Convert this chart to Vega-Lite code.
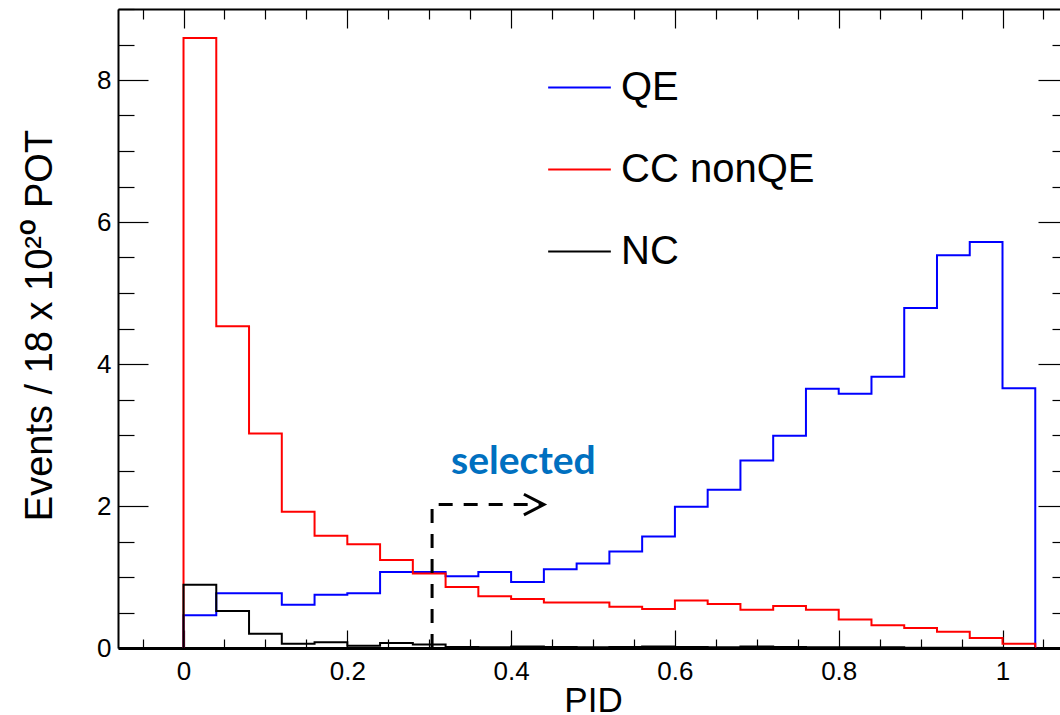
{
  "$schema": "https://vega.github.io/schema/vega-lite/v6.json",
  "width": 942,
  "height": 639,
  "autosize": "none",
  "padding": {"left": 118, "top": 9, "right": 0, "bottom": 67},
  "background": "white",
  "config": {
    "view": {"stroke": null},
    "font": "Liberation Sans",
    "axis": {"grid": false}
  },
  "datasets": {
    "hist": [
      {"series": "QE", "x": 0, "y": 0},
      {"series": "QE", "x": 0, "y": 0.46},
      {"series": "QE", "x": 0.04, "y": 0.77},
      {"series": "QE", "x": 0.08, "y": 0.77},
      {"series": "QE", "x": 0.12, "y": 0.61},
      {"series": "QE", "x": 0.16, "y": 0.75},
      {"series": "QE", "x": 0.2, "y": 0.77},
      {"series": "QE", "x": 0.24, "y": 1.07},
      {"series": "QE", "x": 0.28, "y": 1.07},
      {"series": "QE", "x": 0.32, "y": 1.01},
      {"series": "QE", "x": 0.36, "y": 1.07},
      {"series": "QE", "x": 0.4, "y": 0.93},
      {"series": "QE", "x": 0.44, "y": 1.11},
      {"series": "QE", "x": 0.48, "y": 1.19},
      {"series": "QE", "x": 0.52, "y": 1.36},
      {"series": "QE", "x": 0.56, "y": 1.57},
      {"series": "QE", "x": 0.6, "y": 1.99},
      {"series": "QE", "x": 0.64, "y": 2.23},
      {"series": "QE", "x": 0.68, "y": 2.64},
      {"series": "QE", "x": 0.72, "y": 2.99},
      {"series": "QE", "x": 0.76, "y": 3.65},
      {"series": "QE", "x": 0.8, "y": 3.58},
      {"series": "QE", "x": 0.84, "y": 3.82},
      {"series": "QE", "x": 0.88, "y": 4.79},
      {"series": "QE", "x": 0.92, "y": 5.53},
      {"series": "QE", "x": 0.96, "y": 5.72},
      {"series": "QE", "x": 1.0, "y": 3.66},
      {"series": "QE", "x": 1.04, "y": 3.66},
      {"series": "QE", "x": 1.04, "y": 0},
      {"series": "CC nonQE", "x": 0, "y": 0},
      {"series": "CC nonQE", "x": 0, "y": 8.59},
      {"series": "CC nonQE", "x": 0.04, "y": 4.53},
      {"series": "CC nonQE", "x": 0.08, "y": 3.02},
      {"series": "CC nonQE", "x": 0.12, "y": 1.92},
      {"series": "CC nonQE", "x": 0.16, "y": 1.58},
      {"series": "CC nonQE", "x": 0.2, "y": 1.46},
      {"series": "CC nonQE", "x": 0.24, "y": 1.24},
      {"series": "CC nonQE", "x": 0.28, "y": 1.05},
      {"series": "CC nonQE", "x": 0.32, "y": 0.86},
      {"series": "CC nonQE", "x": 0.36, "y": 0.73},
      {"series": "CC nonQE", "x": 0.4, "y": 0.69},
      {"series": "CC nonQE", "x": 0.44, "y": 0.64},
      {"series": "CC nonQE", "x": 0.48, "y": 0.64},
      {"series": "CC nonQE", "x": 0.52, "y": 0.58},
      {"series": "CC nonQE", "x": 0.56, "y": 0.55},
      {"series": "CC nonQE", "x": 0.6, "y": 0.67},
      {"series": "CC nonQE", "x": 0.64, "y": 0.62},
      {"series": "CC nonQE", "x": 0.68, "y": 0.54},
      {"series": "CC nonQE", "x": 0.72, "y": 0.59},
      {"series": "CC nonQE", "x": 0.76, "y": 0.54},
      {"series": "CC nonQE", "x": 0.8, "y": 0.4},
      {"series": "CC nonQE", "x": 0.84, "y": 0.32},
      {"series": "CC nonQE", "x": 0.88, "y": 0.28},
      {"series": "CC nonQE", "x": 0.92, "y": 0.23},
      {"series": "CC nonQE", "x": 0.96, "y": 0.14},
      {"series": "CC nonQE", "x": 1.0, "y": 0.06},
      {"series": "CC nonQE", "x": 1.04, "y": 0.06},
      {"series": "CC nonQE", "x": 1.04, "y": 0},
      {"series": "NC", "x": 0, "y": 0},
      {"series": "NC", "x": 0, "y": 0.89},
      {"series": "NC", "x": 0.04, "y": 0.52},
      {"series": "NC", "x": 0.08, "y": 0.2},
      {"series": "NC", "x": 0.12, "y": 0.06},
      {"series": "NC", "x": 0.16, "y": 0.08},
      {"series": "NC", "x": 0.2, "y": 0.03},
      {"series": "NC", "x": 0.24, "y": 0.07},
      {"series": "NC", "x": 0.28, "y": 0.05},
      {"series": "NC", "x": 0.32, "y": 0.015},
      {"series": "NC", "x": 0.36, "y": 0.01},
      {"series": "NC", "x": 0.4, "y": 0.02},
      {"series": "NC", "x": 0.44, "y": 0.015},
      {"series": "NC", "x": 0.48, "y": 0.01},
      {"series": "NC", "x": 0.52, "y": 0.015},
      {"series": "NC", "x": 0.56, "y": 0.02},
      {"series": "NC", "x": 0.6, "y": 0.015},
      {"series": "NC", "x": 0.64, "y": 0.01},
      {"series": "NC", "x": 0.68, "y": 0.02},
      {"series": "NC", "x": 0.72, "y": 0.015},
      {"series": "NC", "x": 0.76, "y": 0.01},
      {"series": "NC", "x": 0.8, "y": 0.01},
      {"series": "NC", "x": 0.84, "y": 0.01},
      {"series": "NC", "x": 0.88, "y": 0.005},
      {"series": "NC", "x": 0.92, "y": 0.005},
      {"series": "NC", "x": 0.96, "y": 0.005},
      {"series": "NC", "x": 1.0, "y": 0.0},
      {"series": "NC", "x": 1.04, "y": 0.0}
    ],
    "cut": [
      {"x": 0.3035, "y": 0},
      {"x": 0.3035, "y": 2.02},
      {"x": 0.44, "y": 2.02}
    ],
    "arrow": [
      {"x": 0.4156, "y": 2.165},
      {"x": 0.44, "y": 2.02},
      {"x": 0.4156, "y": 1.876}
    ],
    "note": [
      {"x": 0.415, "y": 2.45, "label": "selected"}
    ]
  },
  "layer": [
    {
      "data": {"name": "hist"},
      "mark": {"type": "line", "interpolate": "step-after", "strokeWidth": 2},
      "encoding": {
        "x": {
          "field": "x", "type": "quantitative",
          "scale": {"domain": [-0.08, 1.0702], "nice": false, "zero": false},
          "axis": {
            "orient": "bottom",
            "title": "PID",
            "titleFontSize": 35, "titleFont": "Liberation Sans", "titleFontWeight": "normal", "titleColor": "#000",
            "titleX": 475, "titleY": 63, "titleBaseline": "alphabetic", "titleAlign": "center",
            "values": [-0.05,0,0.05,0.1,0.15,0.2,0.25,0.3,0.35,0.4,0.45,0.5,0.55,0.6,0.65,0.7,0.75,0.8,0.85,0.9,0.95,1,1.05],
            "format": "~g",
            "labelExpr": "indexof([0,0.2,0.4,0.6,0.8,1], datum.value) >= 0 ? datum.label : ''",
            "labelFontSize": 26, "labelColor": "#000", "labelFont": "Liberation Sans",
            "labelPadding": 28, "labelFlush": false, "labelOverlap": false,
            "domainColor": "#000", "domainWidth": 3,
            "tickColor": "#000", "tickWidth": 1.2,
            "tickSize": {"condition": {"test": "indexof([0,0.2,0.4,0.6,0.8,1], datum.value) >= 0", "value": -18}, "value": -9}
          }
        },
        "y": {
          "field": "y", "type": "quantitative",
          "scale": {"domain": [0, 9], "nice": false, "zero": false},
          "axis": {
            "orient": "left",
            "title": "Events / 18 x 10²⁰ POT",
            "titleFontSize": 38, "titleFont": "Liberation Sans, Inter, DejaVu Sans", "titleFontWeight": "normal", "titleColor": "#000",
            "titleAngle": -90, "titleX": -67, "titleY": 316, "titleBaseline": "alphabetic", "titleAlign": "center",
            "values": [0,0.5,1,1.5,2,2.5,3,3.5,4,4.5,5,5.5,6,6.5,7,7.5,8,8.5,9],
            "format": "~g",
            "labelExpr": "datum.value % 2 === 0 && datum.value < 9 ? datum.label : ''",
            "labelFontSize": 26, "labelColor": "#000", "labelFont": "Liberation Sans",
            "labelPadding": 37, "labelFlush": false, "labelOverlap": false,
            "domainColor": "#000", "domainWidth": 2,
            "tickColor": "#000", "tickWidth": 1.2,
            "tickSize": {"condition": {"test": "datum.value % 2 === 0", "value": -30}, "value": -16}
          }
        },
        "color": {
          "field": "series", "type": "nominal",
          "scale": {"domain": ["QE", "CC nonQE", "NC"], "range": ["#0000ff", "#ff0000", "#000000"]},
          "legend": {
            "orient": "none", "legendX": 429, "legendY": 46,
            "title": null, "padding": 0,
            "symbolType": "stroke", "symbolSize": 3930, "symbolStrokeWidth": 2,
            "labelFontSize": 40, "labelFont": "Liberation Sans", "labelColor": "#000",
            "labelOffset": 9, "rowPadding": 29, "labelLimit": 400
          }
        },
        "order": {"value": null}
      }
    },
    {
      "data": {"name": "cut"},
      "mark": {"type": "line", "strokeWidth": 3, "strokeDash": [14, 11], "color": "#000"},
      "encoding": {
        "x": {
          "field": "x", "type": "quantitative",
          "scale": {"domain": [-0.08, 1.0702], "nice": false, "zero": false},
          "axis": {
            "orient": "top", "title": null, "labels": false,
            "values": [-0.05,0,0.05,0.1,0.15,0.2,0.25,0.3,0.35,0.4,0.45,0.5,0.55,0.6,0.65,0.7,0.75,0.8,0.85,0.9,0.95,1,1.05],
            "domainColor": "#000", "domainWidth": 2,
            "tickColor": "#000", "tickWidth": 1.2,
            "tickSize": {"condition": {"test": "indexof([0,0.2,0.4,0.6,0.8,1], datum.value) >= 0", "value": -19}, "value": -10}
          }
        },
        "y": {
          "field": "y", "type": "quantitative",
          "scale": {"domain": [0, 9], "nice": false, "zero": false},
          "axis": {
            "orient": "right", "title": null, "labels": false, "domain": false,
            "values": [0,0.5,1,1.5,2,2.5,3,3.5,4,4.5,5,5.5,6,6.5,7,7.5,8,8.5],
            "tickColor": "#000", "tickWidth": 1.2,
            "tickSize": {"condition": {"test": "datum.value % 2 === 0", "value": -22}, "value": -8}
          }
        },
        "order": {"value": null}
      }
    },
    {
      "data": {"name": "arrow"},
      "mark": {"type": "line", "strokeWidth": 3, "color": "#000"},
      "encoding": {
        "x": {"field": "x", "type": "quantitative", "scale": {"domain": [-0.08, 1.0702], "nice": false, "zero": false}, "axis": null},
        "y": {"field": "y", "type": "quantitative", "scale": {"domain": [0, 9], "nice": false, "zero": false}, "axis": null},
        "order": {"value": null}
      }
    },
    {
      "data": {"name": "note"},
      "mark": {"type": "text", "font": "Lato", "fontWeight": "bold", "fontSize": 39, "color": "#0070C0", "align": "center", "baseline": "alphabetic"},
      "encoding": {
        "x": {"field": "x", "type": "quantitative", "scale": {"domain": [-0.08, 1.0702], "nice": false, "zero": false}, "axis": null},
        "y": {"field": "y", "type": "quantitative", "scale": {"domain": [0, 9], "nice": false, "zero": false}, "axis": null},
        "text": {"field": "label"}
      }
    }
  ],
  "resolve": {"axis": {"x": "independent", "y": "independent"}}
}
